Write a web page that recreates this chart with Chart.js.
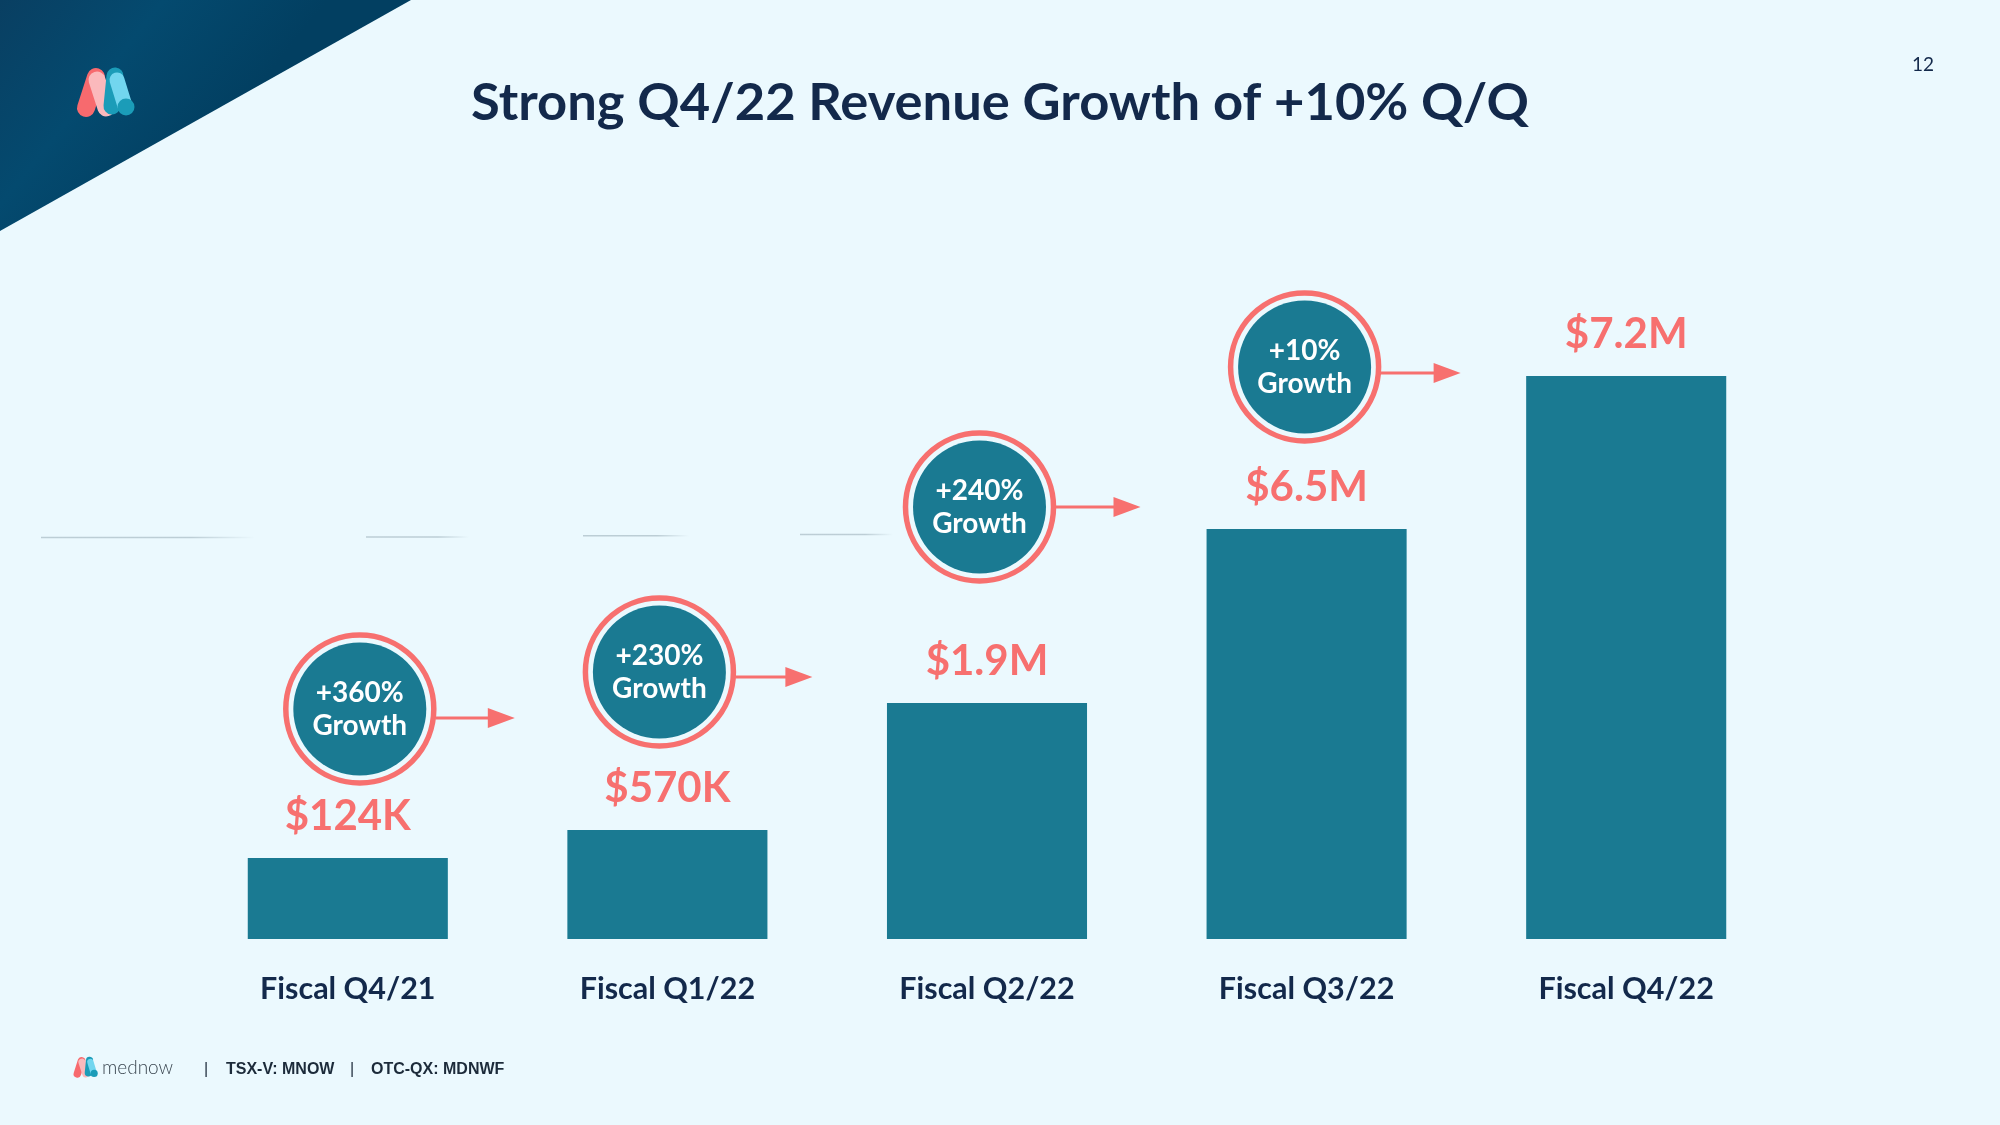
<!DOCTYPE html>
<html><head><meta charset="utf-8">
<script src="https://cdn.jsdelivr.net/npm/chart.js@4.4.0/dist/chart.umd.min.js"></script>
<style>html,body{margin:0;padding:0;background:#EBF9FE;} canvas{display:block;}</style>
</head><body>
<canvas id="c" width="2000" height="1125"></canvas>
<script>
// ---- data ----
const categories = ['Fiscal Q4/21', 'Fiscal Q1/22', 'Fiscal Q2/22', 'Fiscal Q3/22', 'Fiscal Q4/22'];
const revenueLabels = ['$124K', '$570K', '$1.9M', '$6.5M', '$7.2M'];
const barHeights = [81, 109, 236, 410, 563]; // visual bar heights (not to scale with revenue)
const growthRates = ['+360%', '+230%', '+240%', '+10%'];
const growthWord = 'Growth';
const titleText = 'Strong Q4/22 Revenue Growth of +10% Q/Q';
const pageNumber = '12';
const tickerTexts = ['TSX-V: MNOW', 'OTC-QX: MDNWF'];

// ---- styles ----
const BG = '#EBF9FE';
const NAVY = '#13294B';
const TEAL = '#1A7A92';
const PINK = '#F7706F';
const FONT = 'Lato, "Noto Sans", sans-serif';

function drawLogo(ctx, x, y, s) {
  ctx.save();
  ctx.translate(x, y);
  ctx.scale(s, s);
  ctx.lineCap = 'round';
  const seg = (x1, y1, x2, y2, w, c) => {
    ctx.strokeStyle = c; ctx.lineWidth = w;
    ctx.beginPath(); ctx.moveTo(x1, y1); ctx.lineTo(x2, y2); ctx.stroke();
  };
  seg(18, 9, 8, 40, 18, '#F76A6E');
  seg(19, 12, 28, 40, 17, '#FBB9BC');
  seg(37, 8, 34, 38, 17, '#1B9CB8');
  seg(39, 12, 47, 38, 15, '#72D6EF');
  ctx.fillStyle = '#1B9CB8';
  ctx.beginPath(); ctx.arc(48, 39, 8.5, 0, Math.PI * 2); ctx.fill();
  ctx.restore();
}

const decorPlugin = {
  id: 'decor',
  beforeDraw(chart) {
    const ctx = chart.ctx;
    ctx.save();
    ctx.fillStyle = BG;
    ctx.fillRect(0, 0, chart.width, chart.height);
    // top-left triangle
    const g = ctx.createLinearGradient(0, 0, 200, 160);
    g.addColorStop(0, '#093F62');
    g.addColorStop(0.5, '#044A6F');
    g.addColorStop(1, '#023F61');
    ctx.fillStyle = g;
    ctx.beginPath(); ctx.moveTo(0, 0); ctx.lineTo(411, 0); ctx.lineTo(0, 231); ctx.closePath(); ctx.fill();
    drawLogo(ctx, 78, 68, 1);
    // faint stray lines
    const lines = [[41, 255, 537.6], [366, 469, 537], [583, 689, 535.7], [800, 893, 534.4]];
    lines.forEach(([x1, x2, y]) => {
      const lg = ctx.createLinearGradient(x1, 0, x2, 0);
      lg.addColorStop(0, 'rgba(150,170,180,0.55)');
      lg.addColorStop(0.7, 'rgba(150,170,180,0.55)');
      lg.addColorStop(1, 'rgba(150,170,180,0)');
      ctx.strokeStyle = lg; ctx.lineWidth = 1.5;
      ctx.beginPath(); ctx.moveTo(x1, y); ctx.lineTo(x2, y); ctx.stroke();
    });
    ctx.restore();
  },
  afterDraw(chart) {
    const ctx = chart.ctx;
    ctx.save();
    // title
    ctx.fillStyle = NAVY;
    ctx.font = `700 52.5px ${FONT}`;
    ctx.textAlign = 'center'; ctx.textBaseline = 'alphabetic';
    ctx.fillText(titleText, 1000, 120);
    // page number
    ctx.font = `400 19px ${FONT}`;
    ctx.textAlign = 'left';
    ctx.fillText(pageNumber, 1912, 71);
    // footer
    drawLogo(ctx, 74, 1057, 0.42);
    ctx.fillStyle = '#3A4650';
    ctx.font = `300 19px ${FONT}`;
    ctx.fillText('mednow', 102, 1074);
    ctx.fillStyle = '#1C2B3A';
    ctx.font = `400 16px "Liberation Sans", Arial, sans-serif`;
    ctx.fillText('|', 204, 1074);
    ctx.fillText('|', 350, 1074);
    ctx.font = `700 16px "Liberation Sans", Arial, sans-serif`;
    ctx.fillText(tickerTexts[0], 226, 1074);
    ctx.fillText(tickerTexts[1], 371, 1074);
    ctx.restore();
  }
};

const circleLayout = [
  { dx: 12, dy: 149, ay: 9, tip: 155 },
  { dx: -8, dy: 158, ay: 5, tip: 153 },
  { dx: -7.5, dy: 196, ay: 0, tip: 161 },
  { dx: -2, dy: 162, ay: 6, tip: 156 }
];

const labelPlugin = {
  id: 'barLabels',
  afterDatasetsDraw(chart) {
    const ctx = chart.ctx;
    const meta = chart.getDatasetMeta(0);
    ctx.save();
    // value labels
    ctx.fillStyle = PINK;
    ctx.font = `700 42px ${FONT}`;
    ctx.textAlign = 'center'; ctx.textBaseline = 'alphabetic';
    meta.data.forEach((bar, i) => {
      ctx.fillText(revenueLabels[i], bar.x, bar.y - 28);
    });
    // growth circles
    growthRates.forEach((txt, i) => {
      const bar = meta.data[i];
      const L = circleLayout[i];
      const cx = bar.x + L.dx, cy = bar.y - L.dy;
      ctx.fillStyle = TEAL;
      ctx.beginPath(); ctx.arc(cx, cy, 66.5, 0, Math.PI * 2); ctx.fill();
      ctx.strokeStyle = PINK; ctx.lineWidth = 5.5;
      ctx.beginPath(); ctx.arc(cx, cy, 74, 0, Math.PI * 2); ctx.stroke();
      // arrow
      const ay = cy + L.ay;
      const x0 = cx + Math.sqrt(Math.max(0, 76 * 76 - L.ay * L.ay));
      const xt = cx + L.tip;
      ctx.lineWidth = 3;
      ctx.beginPath(); ctx.moveTo(x0, ay); ctx.lineTo(xt - 24, ay); ctx.stroke();
      ctx.fillStyle = PINK;
      ctx.beginPath(); ctx.moveTo(xt, ay); ctx.lineTo(xt - 27, ay - 10); ctx.lineTo(xt - 27, ay + 10); ctx.closePath(); ctx.fill();
      // text
      ctx.fillStyle = '#FFFFFF';
      ctx.font = `700 28px ${FONT}`;
      ctx.fillText(txt, cx, cy - 7);
      ctx.fillText(growthWord, cx, cy + 26);
    });
    ctx.restore();
  }
};

new Chart(document.getElementById('c'), {
  type: 'bar',
  data: {
    labels: categories,
    datasets: [{
      data: barHeights,
      backgroundColor: TEAL,
      borderWidth: 0,
      categoryPercentage: 1,
      barPercentage: 0.626
    }]
  },
  options: {
    responsive: false,
    animation: false,
    devicePixelRatio: 1,
    layout: { padding: { left: 188, right: 214, top: 339, bottom: 86 } },
    plugins: { legend: { display: false }, tooltip: { enabled: false }, title: { display: false } },
    scales: {
      y: { display: false, min: 0, max: 600 },
      x: {
        grid: { display: false, drawTicks: false },
        border: { display: false },
        ticks: { color: NAVY, font: { family: FONT, size: 30.5, weight: '700' }, padding: 32 },
        afterFit(scale) { scale.height = 100; }
      }
    }
  },
  plugins: [decorPlugin, labelPlugin]
});
</script>
</body></html>
